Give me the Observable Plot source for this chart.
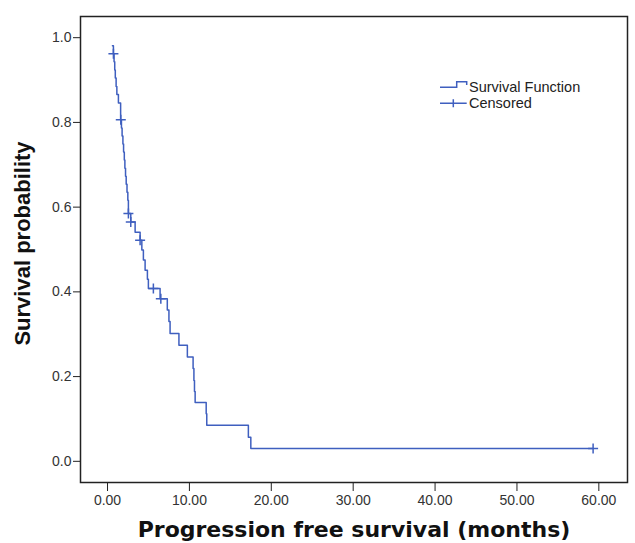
<!DOCTYPE html>
<html><head><meta charset="utf-8">
<script src="https://cdn.jsdelivr.net/npm/d3@7"></script>
<script src="https://cdn.jsdelivr.net/npm/@observablehq/plot@0.6"></script>
<style>
body{margin:0;background:#fff;}
#wrap{position:relative;width:635px;height:543px;}
#legend{position:absolute;left:0;top:0;pointer-events:none;}
</style></head><body><div id="wrap"></div>
<script>
// Kaplan-Meier step points: time of drop (months) and survival after the drop
const eventTimes = [0.60, 0.72, 0.80, 0.88, 0.95, 1.05, 1.14, 1.33, 1.60, 1.70, 1.78, 1.88, 1.96, 2.05, 2.12, 2.20, 2.28, 2.38, 2.48, 2.55, 2.84, 3.37, 3.98, 4.19, 4.38, 4.59, 4.87, 4.99, 6.42, 7.30, 7.50, 7.64, 8.72, 9.75, 10.45, 10.55, 10.62, 10.70, 12.05, 12.12, 17.20, 17.50];
const survival   = [0.981, 0.962, 0.943, 0.924, 0.905, 0.885, 0.866, 0.846, 0.806, 0.787, 0.768, 0.749, 0.730, 0.711, 0.692, 0.673, 0.654, 0.635, 0.616, 0.585, 0.565, 0.541, 0.522, 0.499, 0.475, 0.451, 0.430, 0.408, 0.384, 0.357, 0.330, 0.302, 0.274, 0.246, 0.219, 0.191, 0.165, 0.139, 0.112, 0.085, 0.057, 0.030];
const lastTime = 59.3;
const censorTimes    = [0.72, 1.62, 2.55, 2.84, 3.98, 5.60, 6.51, 59.3];
const censorSurvival = [0.962, 0.806, 0.585, 0.565, 0.522, 0.408, 0.384, 0.030];
const xTicks = [0, 10, 20, 30, 40, 50, 60];
const yTicks = [0, 0.2, 0.4, 0.6, 0.8, 1.0];
const xTitle = "Progression free survival (months)";
const yTitle = "Survival probability";
const legendLabels = ["Survival Function", "Censored"];

const blue = "#3f5fbf";
const steps = eventTimes.map((t, i) => ({t, s: survival[i]}));
steps.push({t: lastTime, s: survival[survival.length - 1]});
const censored = censorTimes.map((t, i) => ({t, s: censorSurvival[i]}));

const plusSymbol = {
  draw(ctx, size) {
    const r = Math.sqrt(size / Math.PI);
    ctx.moveTo(-r, 0); ctx.lineTo(r, 0);
    ctx.moveTo(0, -r); ctx.lineTo(0, r);
  }
};

const chart = Plot.plot({
  width: 635, height: 543,
  marginLeft: 80, marginRight: 8, marginTop: 16, marginBottom: 61,
  x: {domain: [-3.3, 63.5]},
  y: {domain: [-0.05, 1.05]},
  style: {fontFamily: "'Liberation Sans', Arial, sans-serif", fontSize: "14px", color: "#222", background: "#fff"},
  marks: [
    Plot.axisX(xTicks, {tickFormat: d3.format(".2f"), tickSize: 9, tickPadding: 4, label: null, fontSize: 14, fill: "#333"}),
    Plot.axisY(yTicks, {tickFormat: d3.format(".1f"), tickSize: 7, tickPadding: 2, label: null, fontSize: 14, fill: "#333"}),
    Plot.frame({stroke: "#222", strokeWidth: 1.5}),
    Plot.line(steps, {x: "t", y: "s", curve: "step-after", stroke: blue, strokeWidth: 1.5}),
    Plot.dot(censored, {x: "t", y: "s", symbol: plusSymbol, r: 5, stroke: blue, fill: "none", strokeWidth: 1.5}),
    Plot.text([xTitle], {text: d => d, frameAnchor: "bottom", dy: 54, textAnchor: "middle", fontWeight: "bold", fontSize: 22, fontFamily: "'DejaVu Sans', Verdana, sans-serif", fill: "#111"}),
    Plot.text([yTitle], {text: d => d, frameAnchor: "left", textAnchor: "middle", rotate: -90, dx: -58, dy: -6, fontWeight: "bold", fontSize: 22, fill: "#111"})
  ]
});
const wrap = document.getElementById("wrap");
wrap.appendChild(chart);

// legend overlay
const ns = "http://www.w3.org/2000/svg";
const lg = document.createElementNS(ns, "svg");
lg.setAttribute("id", "legend");
lg.setAttribute("width", 635); lg.setAttribute("height", 543);
lg.innerHTML = `
  <path d="M440,87.3H456.7V81.7H466.7V85" fill="none" stroke="${blue}" stroke-width="1.5"/>
  <path d="M440,103.3H466.7M453.3,99.3V107.3" fill="none" stroke="${blue}" stroke-width="1.5"/>
  <text x="469" y="91.5" font-family="'Liberation Sans', Arial, sans-serif" font-size="14.5" fill="#222">${legendLabels[0]}</text>
  <text x="469" y="108" font-family="'Liberation Sans', Arial, sans-serif" font-size="14.5" fill="#222">${legendLabels[1]}</text>`;
wrap.appendChild(lg);
</script></body></html>
